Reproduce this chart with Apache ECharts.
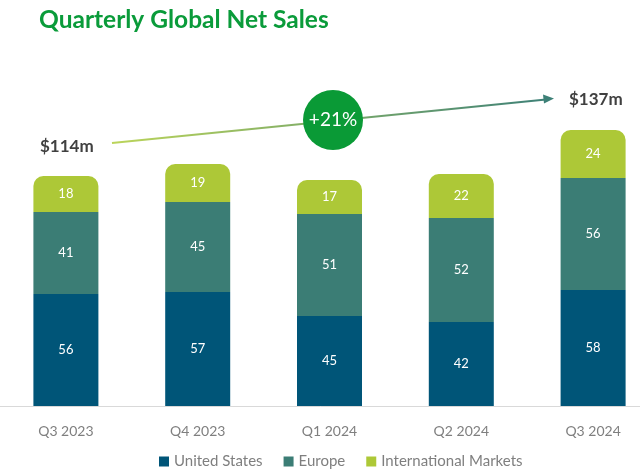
<!DOCTYPE html>
<html><head><meta charset="utf-8">
<script src="https://cdn.jsdelivr.net/npm/echarts@6/dist/echarts.min.js"></script>
<style>html,body{margin:0;padding:0;background:#fff}#c{width:640px;height:469px}</style>
</head><body><div id="c"></div>
<script>
const categories = ['Q3 2023', 'Q4 2023', 'Q1 2024', 'Q2 2024', 'Q3 2024'];
const unitedStates = [56, 57, 45, 42, 58];
const europe = [41, 45, 51, 52, 56];
const international = [18, 19, 17, 22, 24];
const startLabel = '$114m';
const endLabel = '$137m';
const growthLabel = '+21%';

const FONT = 'Lato, "Open Sans", sans-serif';
const chart = echarts.init(document.getElementById('c'), null, {renderer: 'canvas'});
const labelStyle = {show: true, position: 'inside', color: '#fff', fontSize: 13, fontFamily: FONT};
chart.setOption({
  animation: false,
  title: {text: 'Quarterly Global Net Sales', left: 34, top: 3,
    textStyle: {color: '#0a9b3a', fontSize: 24.5, fontWeight: 'bold', fontFamily: FONT}},
  legend: {top: 449, left: 154, itemWidth: 10, itemHeight: 10, itemGap: 21, icon: 'rect',
    textStyle: {color: '#7f7f7f', fontSize: 15, fontFamily: FONT},
    data: ['United States', 'Europe', 'International Markets']},
  grid: {left: 0, width: 659, bottom: 63, top: 106, containLabel: false, outerBoundsMode: 'none'},
  xAxis: {type: 'category', data: categories,
    axisLine: {lineStyle: {color: '#d9d9d9', width: 1}}, axisTick: {show: false},
    axisLabel: {color: '#7f7f7f', fontSize: 14, fontFamily: FONT, margin: 18}},
  yAxis: {type: 'value', min: 0, max: 150, show: false, splitLine: {show: false}},
  series: [
    {name: 'United States', type: 'bar', stack: 't', data: unitedStates, barWidth: 65,
      itemStyle: {color: '#005578'}, label: labelStyle},
    {name: 'Europe', type: 'bar', stack: 't', data: europe, barWidth: 65,
      itemStyle: {color: '#3b7d75'}, label: labelStyle},
    {name: 'International Markets', type: 'bar', stack: 't', data: international, barWidth: 65,
      itemStyle: {color: '#adc837', borderRadius: [10, 10, 0, 0]}, label: labelStyle}
  ],
  graphic: [
    {type: 'line', shape: {x1: 112, y1: 143, x2: 546, y2: 99.5},
      style: {lineWidth: 2, stroke: new echarts.graphic.LinearGradient(0, 0, 1, 0, [
        {offset: 0, color: '#bcd55a'}, {offset: 1, color: '#3d8077'}])}},
    {type: 'polygon', shape: {points: [[554, 98.5], [543, 94.5], [544, 103.5]]},
      style: {fill: '#3d8077'}},
    {type: 'circle', shape: {cx: 333, cy: 120, r: 30}, style: {fill: '#0a9a36'}, z: 10},
    {type: 'text', x: 333, y: 120, z: 11, style: {text: growthLabel, fill: '#fff', fontSize: 19,
      fontFamily: FONT, align: 'center', verticalAlign: 'middle'}},
    {type: 'text', x: 40, y: 147, style: {text: startLabel, fill: '#404040', fontSize: 17,
      fontWeight: 'bold', fontFamily: FONT, align: 'left', verticalAlign: 'middle'}},
    {type: 'text', x: 569, y: 100, style: {text: endLabel, fill: '#404040', fontSize: 17,
      fontWeight: 'bold', fontFamily: FONT, align: 'left', verticalAlign: 'middle'}}
  ]
});
</script></body></html>
